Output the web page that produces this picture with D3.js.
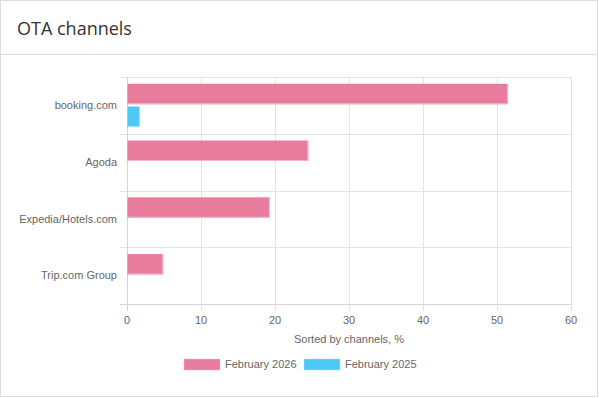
<!DOCTYPE html>
<html>
<head>
<meta charset="utf-8">
<script src="https://cdn.jsdelivr.net/npm/d3@7"></script>
<style>
html,body{margin:0;padding:0;background:#fff;}
svg{display:block;}
</style>
</head>
<body>
<svg id="chart" width="599" height="398"></svg>
<script>
const categories = ["booking.com", "Agoda", "Expedia/Hotels.com", "Trip.com Group"];
const seriesNames = ["February 2026", "February 2025"];
const feb2026 = [51.5, 24.5, 19.3, 4.9];
const feb2025 = [1.75, 0, 0, 0];
const xTicks = [0, 10, 20, 30, 40, 50, 60];
const colors = ["#e77c9c", "#4cc9f6"];
const borderColors = ["#f3b9ca", "#a5e4fb"];

const svg = d3.select("#chart");
const font = "'Liberation Sans', Arial, Helvetica, sans-serif";

// card
svg.append("rect").attr("x", 0.5).attr("y", 0.5).attr("width", 597).attr("height", 396)
  .attr("fill", "#fff").attr("stroke", "#dddddd");
svg.append("line").attr("x1", 1).attr("x2", 597).attr("y1", 54.5).attr("y2", 54.5)
  .attr("stroke", "#dddddd");
svg.append("text").attr("x", 17).attr("y", 35).text("OTA channels")
  .attr("font-family", "'Open Sans', sans-serif").attr("font-size", 18).attr("fill", "#333");

const x = d3.scaleLinear().domain([0, 60]).range([127, 571]);
const y = d3.scaleBand().domain(categories).range([77, 304]).padding(0);
const B = y.bandwidth();
const ys = d3.scaleBand().domain(seriesNames).range([0.1 * B, 0.9 * B]).padding(0);

const grid = svg.append("g");
// vertical grid lines
xTicks.forEach(t => {
  grid.append("line").attr("x1", Math.round(x(t)) + 0.5).attr("x2", Math.round(x(t)) + 0.5)
    .attr("y1", 77).attr("y2", 311).attr("stroke", "#e3e3e3");
});
// horizontal grid lines at band boundaries
const bounds = categories.map(c => y(c)).concat([y(categories[categories.length - 1]) + B]);
bounds.forEach(b => {
  grid.append("line").attr("x1", 120).attr("x2", 571)
    .attr("y1", Math.round(b) + 0.5).attr("y2", Math.round(b) + 0.5).attr("stroke", "#e3e3e3");
});
// axes lines
svg.append("line").attr("x1", 127.5).attr("x2", 127.5).attr("y1", 77).attr("y2", 311).attr("stroke", "#d4d4d4");
svg.append("line").attr("x1", 120).attr("x2", 571).attr("y1", 304.5).attr("y2", 304.5).attr("stroke", "#d4d4d4");

// bars
const data = [feb2026, feb2025];
data.forEach((vals, si) => {
  const bh = ys.bandwidth() * 0.9;
  const off = ys(seriesNames[si]) + ys.bandwidth() * 0.05;
  svg.append("g").selectAll("rect").data(categories).join("rect")
    .filter((c, i) => vals[i] > 0)
    .attr("x", x(0) + 0.5)
    .attr("y", c => y(c) + off)
    .attr("width", (c, i) => x(vals[categories.indexOf(c)]) - x(0) - 0.5)
    .attr("height", bh)
    .attr("fill", colors[si]);
  // lighter edge at right and bottom
  svg.append("g").selectAll("path").data(categories.filter((c, i) => vals[i] > 0)).join("path")
    .attr("d", c => {
      const v = vals[categories.indexOf(c)];
      const x1 = x(v) - 0.5, y0 = y(c) + off, y1 = y0 + bh - 0.5;
      return `M${x(0) + 0.5},${y1}H${x1}V${y0}`;
    })
    .attr("fill", "none").attr("stroke", borderColors[si]).attr("stroke-width", 1);
});

// category labels
svg.append("g").selectAll("text").data(categories).join("text")
  .attr("x", 117).attr("y", c => y(c) + B / 2).attr("dy", "0.35em")
  .attr("text-anchor", "end").attr("font-family", font).attr("font-size", 11).attr("fill", "#666")
  .text(c => c);

// x tick labels
svg.append("g").selectAll("text").data(xTicks).join("text")
  .attr("x", t => x(t)).attr("y", 320).attr("dy", "0.35em")
  .attr("text-anchor", "middle").attr("font-family", font).attr("font-size", 11).attr("fill", "#666")
  .text(t => t);

// axis title
svg.append("text").attr("x", x(30)).attr("y", 339).attr("dy", "0.35em")
  .attr("text-anchor", "middle").attr("font-family", font).attr("font-size", 11).attr("fill", "#666")
  .text("Sorted by channels, %");

// legend
const legendX = [184, 304];
seriesNames.forEach((s, i) => {
  svg.append("rect").attr("x", legendX[i]).attr("y", 359).attr("width", 36).attr("height", 11)
    .attr("fill", colors[i]).attr("stroke", borderColors[i]).attr("stroke-width", 0.5);
  svg.append("text").attr("x", legendX[i] + 41).attr("y", 364.5).attr("dy", "0.35em")
    .attr("font-family", font).attr("font-size", 11).attr("fill", "#666").text(s);
});
</script>
</body>
</html>
